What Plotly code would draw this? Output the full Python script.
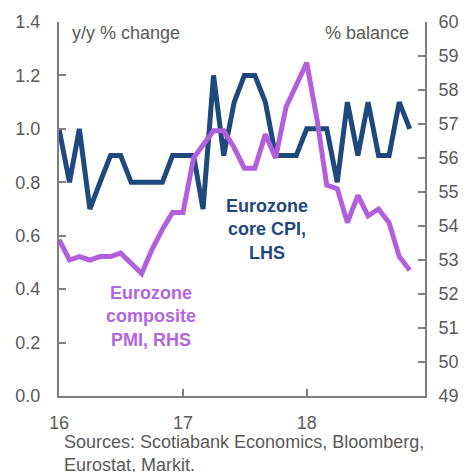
import pandas as pd
import plotly.graph_objects as go

# Monthly observations, Jan 2016 - Nov 2018
months = pd.date_range("2016-01-01", "2018-11-01", freq="MS")

# Eurozone core CPI, y/y % change (left axis)
core_cpi = [1.0, 0.8, 1.0, 0.7, 0.8, 0.9, 0.9, 0.8, 0.8, 0.8, 0.8, 0.9,
            0.9, 0.9, 0.7, 1.2, 0.9, 1.1, 1.2, 1.2, 1.1, 0.9, 0.9, 0.9,
            1.0, 1.0, 1.0, 0.8, 1.1, 0.9, 1.1, 0.9, 0.9, 1.1, 1.0]

# Eurozone composite PMI, % balance (right axis)
composite_pmi = [53.6, 53.0, 53.1, 53.0, 53.1, 53.1, 53.2, 52.9, 52.6, 53.3, 53.9, 54.4,
                 54.4, 56.0, 56.4, 56.8, 56.8, 56.3, 55.7, 55.7, 56.7, 56.0, 57.5, 58.1,
                 58.8, 57.1, 55.2, 55.1, 54.1, 54.9, 54.3, 54.5, 54.1, 53.1, 52.7]

year_ticks = ["2016-01-01", "2017-01-01", "2018-01-01"]
year_labels = ["16", "17", "18"]
left_ticks = [0.0, 0.2, 0.4, 0.6, 0.8, 1.0, 1.2, 1.4]
right_ticks = list(range(49, 61))

BLUE = "#1F497D"
PURPLE = "#B25FDC"
GREY_TEXT = "#595959"
AXIS = "#7F7F7F"
FONT = "Liberation Sans, Arial, sans-serif"
FS = 18

fig = go.Figure()
fig.add_trace(go.Scatter(x=months, y=composite_pmi, yaxis="y2", mode="lines",
                         line=dict(color=PURPLE, width=5), showlegend=False))
fig.add_trace(go.Scatter(x=months, y=core_cpi, yaxis="y", mode="lines",
                         line=dict(color=BLUE, width=5), showlegend=False))

fig.update_layout(
    width=471, height=472,
    margin=dict(l=59, r=39, t=22, b=76),
    paper_bgcolor="white", plot_bgcolor="white",
    font=dict(family=FONT, size=FS, color=GREY_TEXT),
    xaxis=dict(type="date", range=["2016-01-01", "2018-12-16"],
               tickvals=year_ticks, ticktext=year_labels,
               ticks="inside", ticklen=7, tickwidth=2, tickcolor=AXIS,
               showline=True, linecolor=AXIS, linewidth=2,
               showgrid=False, zeroline=False, ticklabelstandoff=9,
               tickfont=dict(size=FS, color=GREY_TEXT)),
    yaxis=dict(range=[0, 1.4], tickvals=left_ticks, tickformat=".1f",
               ticks="inside", ticklen=7, tickwidth=2, tickcolor=AXIS,
               showline=True, linecolor=AXIS, linewidth=2,
               showgrid=False, zeroline=False, ticklabelstandoff=13,
               tickfont=dict(size=FS, color=GREY_TEXT)),
    yaxis2=dict(range=[49, 60], tickvals=right_ticks, overlaying="y", side="right",
                ticks="inside", ticklen=7, tickwidth=2, tickcolor=AXIS,
                showline=True, linecolor=AXIS, linewidth=2,
                showgrid=False, zeroline=False, ticklabelstandoff=8,
                tickfont=dict(size=FS, color=GREY_TEXT)),
)

# Axis unit captions
fig.add_annotation(text="y/y % change", xref="paper", yref="paper", x=0.029, y=0.97,
                   xanchor="left", yanchor="middle", showarrow=False,
                   font=dict(size=FS, color=GREY_TEXT))
fig.add_annotation(text="% balance", xref="paper", yref="paper", x=0.962, y=0.97,
                   xanchor="right", yanchor="middle", showarrow=False,
                   font=dict(size=FS, color=GREY_TEXT))

# Series labels
fig.add_annotation(text="<b>Eurozone<br>core CPI,<br>LHS</b>", x="2017-09-06", y=0.622,
                   xref="x", yref="y", xanchor="center", yanchor="middle", showarrow=False,
                   align="center", font=dict(size=FS, color=BLUE))
fig.add_annotation(text="<b>Eurozone<br>composite<br>PMI, RHS</b>", x="2016-09-27", y=51.35,
                   xref="x", yref="y2", xanchor="center", yanchor="middle", showarrow=False,
                   align="center", font=dict(size=FS, color="#B366E0"))

# Source note
fig.add_annotation(text="Sources: Scotiabank Economics, Bloomberg,<br>Eurostat, Markit.",
                   xref="paper", yref="paper", x=0.007, y=-0.091,
                   xanchor="left", yanchor="top", showarrow=False, align="left",
                   font=dict(size=FS, color=GREY_TEXT))

fig.write_html("out.html")
